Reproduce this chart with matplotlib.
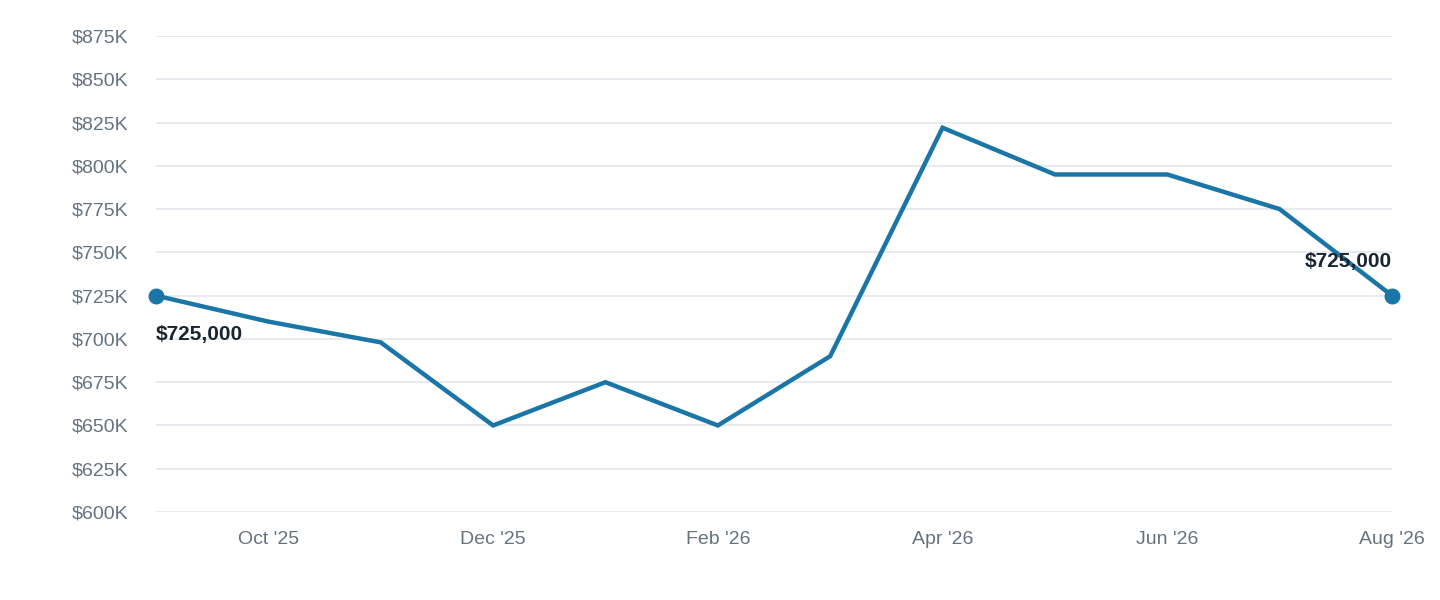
import matplotlib
matplotlib.use('Agg')
import matplotlib.pyplot as plt

plt.rcParams['font.family'] = ['Liberation Sans', 'DejaVu Sans']

months = ["Sep '25", "Oct '25", "Nov '25", "Dec '25", "Jan '26", "Feb '26",
          "Mar '26", "Apr '26", "May '26", "Jun '26", "Jul '26", "Aug '26"]
values = [725000, 710000, 698000, 650000, 675000, 650000,
          690000, 822000, 795000, 795000, 775000, 725000]
yticks = list(range(600000, 875001, 25000))

line_color = '#1b76a8'
fig = plt.figure(figsize=(14.4, 6), dpi=100)
ax = fig.add_axes([156 / 1440, 1 - 512 / 600, (1392 - 156) / 1440, (512 - 36) / 600])

x = list(range(len(values)))
ax.plot(x, values, color=line_color, lw=3.2, solid_joinstyle='miter', zorder=3, clip_on=False)
ax.scatter([x[0], x[-1]], [values[0], values[-1]], s=110, color=line_color, zorder=4, clip_on=False)
ax.text(x[0], values[0] - 17000, f"${values[0]:,}", fontsize=15, fontweight='bold',
        color='#1a2530', ha='left', va='top')
ax.text(x[-1], values[-1] + 14000, f"${values[-1]:,}", fontsize=15, fontweight='bold',
        color='#1a2530', ha='right', va='bottom')

ax.set_xlim(0, len(values) - 1)
ax.set_ylim(600000, 875000)
ax.set_yticks(yticks)
ax.set_yticklabels([f"${v // 1000}K" for v in yticks])
ax.set_xticks(x[1::2])
ax.set_xticklabels(months[1::2])
ax.tick_params(length=0, labelsize=14, labelcolor='#667280')
ax.tick_params(axis='y', pad=20)
ax.tick_params(axis='x', pad=14)
ax.grid(axis='y', color='#e3e6eb', lw=1.2)
ax.set_axisbelow(True)
for s in ax.spines.values():
    s.set_visible(False)

fig.savefig('out.png', dpi=100)
